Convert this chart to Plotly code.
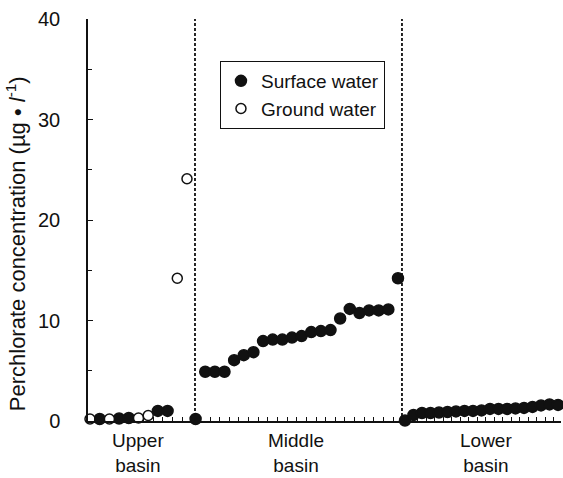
import plotly.graph_objects as go

# Perchlorate concentrations (µg/l) by sampling site, ordered along the river
upper_types = ["G", "S", "G", "S", "S", "G", "G", "S", "S", "G", "G"]
upper_vals = [0.2, 0.2, 0.2, 0.25, 0.3, 0.3, 0.55, 1.0, 1.0, 14.2, 24.1]

middle_types = ["S"] * 22
middle_vals = [0.2, 4.9, 4.9, 4.9, 6.05, 6.55, 6.85, 7.95, 8.1, 8.1, 8.3, 8.45,
               8.85, 8.95, 9.05, 10.2, 11.15, 10.75, 11.0, 11.0, 11.1, 14.2]

lower_types = ["S"] * 19
lower_vals = [0.05, 0.6, 0.8, 0.8, 0.85, 0.9, 0.95, 1.0, 1.0, 1.05, 1.2, 1.2,
              1.2, 1.25, 1.3, 1.4, 1.55, 1.65, 1.6]

basin_labels = ["Upper<br>basin", "Middle<br>basin", "Lower<br>basin"]
series_names = {"S": "Surface water", "G": "Ground water"}

FONT = "Liberation Sans, Arial, sans-serif"
BLACK = "#111111"

basins = [
    ("x", upper_types, upper_vals),
    ("x2", middle_types, middle_vals),
    ("x3", lower_types, lower_vals),
]

fig = go.Figure()
traces = []
shown = set()
for kind in ("S", "G"):
    for axis, types, vals in basins:
        xs = [i for i, t in enumerate(types) if t == kind]
        if not xs:
            continue
        ys = [vals[i] for i in xs]
        filled = kind == "S"
        fig.add_trace(go.Scatter(
            x=xs, y=ys, xaxis=axis, yaxis="y", mode="markers",
            name=series_names[kind], legendgroup=kind,
            showlegend=kind not in shown,
            cliponaxis=False,
            marker=dict(
                size=11 if filled else 10,
                color=BLACK if filled else "white",
                line=dict(color=BLACK, width=1.5),
            ),
        ))
        shown.add(kind)

d1, d2 = 0.2262, 0.6638
common_x = dict(
    showline=True, linecolor=BLACK, linewidth=1.5,
    ticks="inside", ticklen=4, tickwidth=1, tickcolor=BLACK,
    tick0=0.5, dtick=1, showticklabels=False, showgrid=False,
    zeroline=False, anchor="y",
)
fig.update_layout(
    width=563, height=478,
    margin=dict(l=88, r=2, t=19, b=57),
    paper_bgcolor="white", plot_bgcolor="white",
    font=dict(family=FONT, size=19, color=BLACK),
    xaxis=dict(domain=[0, d1], range=[-0.206, 10.825], **common_x),
    xaxis2=dict(domain=[d1, d2], range=[-0.062, 21.415], **common_x),
    xaxis3=dict(domain=[d2, 1], range=[-0.353, 18.35], **common_x),
    yaxis=dict(
        range=[0, 40], tick0=0, dtick=10,
        showline=True, linecolor=BLACK, linewidth=1.5,
        ticks="inside", ticklen=5, tickwidth=1, tickcolor=BLACK,
        minor=dict(ticks="inside", ticklen=4, dtick=5, tickcolor=BLACK),
        showgrid=False, zeroline=False,
        tickfont=dict(family=FONT, size=20, color=BLACK),
        ticklabelstandoff=22,
    ),
    showlegend=True,
    legend=dict(
        x=0.279, y=0.8955, xanchor="left", yanchor="top",
        bordercolor=BLACK, borderwidth=1, bgcolor="white",
        font=dict(family=FONT, size=19, color=BLACK),
        itemwidth=30, tracegroupgap=0,
    ),
)

# Dotted dividers between basins
for ax in ("x2", "x3"):
    fig.add_shape(type="line", xref=f"{ax} domain", yref="y domain",
                  x0=0, x1=0, y0=0, y1=1,
                  line=dict(color=BLACK, width=1.8, dash="3px,2px"))

# Basin names below the axis
for ax, label, pos in zip(("x", "x2", "x3"), basin_labels, (0.47, 0.49, 0.53)):
    fig.add_annotation(text=label, xref=f"{ax} domain", yref="y domain",
                       x=pos, y=0, yanchor="top", yshift=-7, showarrow=False,
                       align="center", font=dict(family=FONT, size=19, color=BLACK))

fig.add_annotation(
    text="Perchlorate concentration (µg • <i>l</i><sup>-1</sup>)",
    xref="paper", yref="paper", x=-0.152, y=0.44, textangle=-90,
    showarrow=False, xanchor="center", yanchor="middle",
    font=dict(family=FONT, size=22, color=BLACK),
)

fig.write_html("out.html")
